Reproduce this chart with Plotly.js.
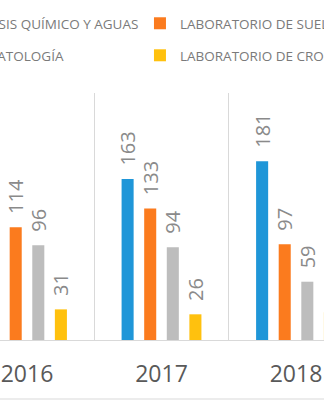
<!DOCTYPE html>
<html>
<head>
<meta charset="utf-8">
<script src="https://cdn.plot.ly/plotly-3.0.1.min.js"></script>
<style>
html,body{margin:0;padding:0;background:#fff;overflow:hidden;}
#chart{width:324px;height:400px;}
</style>
</head>
<body>
<div id="chart"></div>
<script>
// Data
const years = ['2016', '2017', '2018'];
const seriesNames = [
  'LABORATORIO DE ANÁLISIS QUÍMICO Y AGUAS',
  'LABORATORIO DE SUELOS',
  'LABORATORIO DE FITOPATOLOGÍA',
  'LABORATORIO DE CROMATOGRAFÍA'
];
const analisisQuimico = [179, 163, 181];
const suelos = [114, 133, 97];
const fitopatologia = [96, 94, 59];
const cromatografia = [31, 26, 28];

const colors = ['#1f96d8', '#fb7b1e', '#bdbdbd', '#ffc10e'];
const seriesValues = [analisisQuimico, suelos, fitopatologia, cromatografia];
const legendIds = ['legend', 'legend2', 'legend3', 'legend4'];

const traces = seriesValues.map((vals, i) => ({
  type: 'bar',
  x: years,
  y: vals,
  name: seriesNames[i],
  legend: legendIds[i],
  marker: {color: colors[i]},
  texttemplate: '\u00a0\u00a0%{y}',
  textposition: 'outside',
  textangle: -90,
  constraintext: 'none',
  cliponaxis: false,
  textfont: {family: 'Open Sans, sans-serif', size: 20, color: '#8a8a8a'},
  hoverinfo: 'skip'
}));

const legFont = {family: 'Open Sans, sans-serif', size: 13.5, color: '#7a7a7a'};
function leg(x, y) {
  return {orientation: 'h', x: x, y: y, xanchor: 'left', yanchor: 'middle',
          font: legFont, bgcolor: 'rgba(0,0,0,0)', borderwidth: 0};
}

const layout = {
  width: 324, height: 400,
  margin: {l: 0, r: 0, t: 93, b: 60, autoexpand: false},
  paper_bgcolor: '#ffffff', plot_bgcolor: '#ffffff',
  barmode: 'group', bargap: 0.328, bargroupgap: 0.467,
  showlegend: true,
  legend: leg(-0.605, 1.2814),
  legend2: leg(0.432, 1.2814),
  legend3: leg(-0.605, 1.1518),
  legend4: leg(0.432, 1.1518),
  xaxis: {
    type: 'category', range: [-0.2007, 2.208],
    tickson: 'boundaries', showgrid: true, gridcolor: '#d9d9d9', gridwidth: 1,
    showline: true, linecolor: '#d9d9d9', linewidth: 1,
    ticks: '', ticklabelstandoff: 13, fixedrange: true,
    tickfont: {family: 'Open Sans, sans-serif', size: 23, color: '#595959'}
  },
  yaxis: {range: [0, 250], visible: false, showgrid: false, zeroline: false, fixedrange: true},
  shapes: [{type: 'line', xref: 'paper', yref: 'paper', x0: 0, x1: 1, y0: -0.2389, y1: -0.2389,
            line: {color: '#d9d9d9', width: 1}}]
};

Plotly.newPlot('chart', traces, layout, {staticPlot: true, displayModeBar: false});
</script>
</body>
</html>
